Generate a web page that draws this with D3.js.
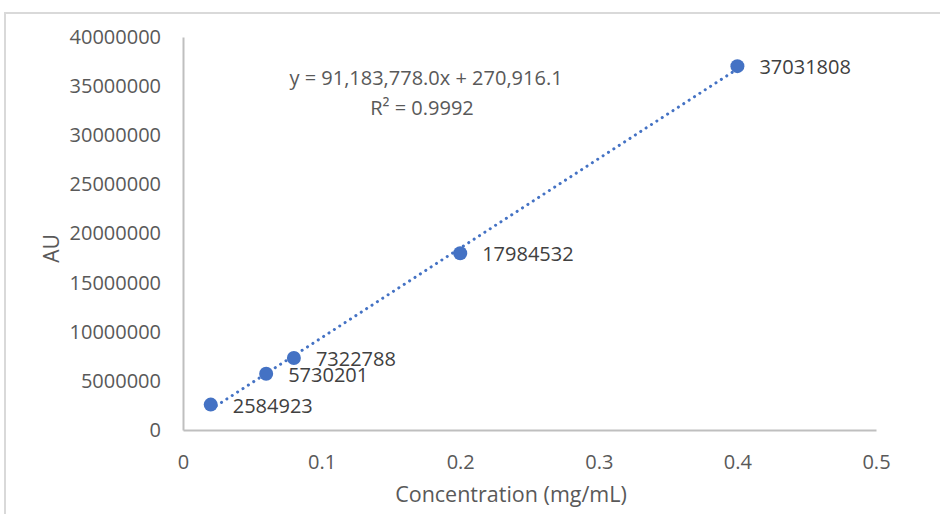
<!DOCTYPE html>
<html>
<head>
<meta charset="utf-8">
<script src="https://cdn.jsdelivr.net/npm/d3@7.9.0/dist/d3.min.js"></script>
<style>
  html, body { margin: 0; padding: 0; background: #fff; }
  svg { display: block; font-family: "Open Sans", sans-serif; }
</style>
</head>
<body>
<svg id="chart" width="940" height="514"></svg>
<script>
// data
const concentrations = [0.02, 0.06, 0.08, 0.2, 0.4];
const responses = [2584923, 5730201, 7322788, 17984532, 37031808];
const yTicks = [0, 5000000, 10000000, 15000000, 20000000, 25000000, 30000000, 35000000, 40000000];
const xTicks = [0, 0.1, 0.2, 0.3, 0.4, 0.5];
const slope = 91183778.0;
const intercept = 270916.1;
const equationText = "y = 91,183,778.0x + 270,916.1";
const r2Text = "R² = 0.9992";

const svg = d3.select('#chart');

// outer frame (only top and left edges show)
svg.append('path')
    .attr('d', 'M5,960 V13 H960')
    .attr('fill', 'none')
    .attr('stroke', '#d9d9d9')
    .attr('stroke-width', 2);

const x = d3.scaleLinear().domain([0, 0.5]).range([183, 876]);
const y = d3.scaleLinear().domain([0, 40000000]).range([430, 37]);

// y axis
const yAxis = svg.append('g')
    .attr('transform', `translate(${x(0)},0)`)
    .call(d3.axisLeft(y).tickValues(yTicks).tickFormat(d3.format('d')).tickSize(0).tickPadding(22));
yAxis.select('.domain').attr('stroke', '#bfbfbf').attr('stroke-width', 2);
yAxis.selectAll('text')
    .attr('fill', '#595959')
    .style('font-size', '20px')
    .style('font-family', '"Open Sans", sans-serif');

// x axis
const xAxis = svg.append('g')
    .attr('transform', `translate(0,${y(0)})`)
    .call(d3.axisBottom(x).tickValues(xTicks).tickFormat(d => d === 0 ? '0' : d3.format('.1f')(d)).tickSize(0).tickPadding(25));
xAxis.select('.domain').attr('stroke', '#bfbfbf').attr('stroke-width', 2);
xAxis.selectAll('text')
    .attr('fill', '#595959')
    .style('font-size', '20px')
    .style('font-family', '"Open Sans", sans-serif');

// axis titles
svg.append('text')
    .attr('transform', `translate(59,${(y(0) + y(40000000)) / 2 + 15}) rotate(-90)`)
    .attr('text-anchor', 'middle')
    .attr('fill', '#595959')
    .style('font-size', '21px')
    .text('AU');

svg.append('text')
    .attr('x', 511)
    .attr('y', 502)
    .attr('text-anchor', 'middle')
    .attr('fill', '#595959')
    .style('font-size', '21.5px')
    .text('Concentration (mg/mL)');

// linear trendline over the data range
const xMin = d3.min(concentrations), xMax = d3.max(concentrations);
const trend = [xMin, xMax].map(c => [x(c), y(slope * c + intercept)]);
svg.append('path')
    .attr('d', d3.line()(trend))
    .attr('fill', 'none')
    .attr('stroke', '#4472c4')
    .attr('stroke-width', 3)
    .attr('stroke-linecap', 'round')
    .attr('stroke-dasharray', '0.1 6.3');

// points
const pts = concentrations.map((c, i) => ({ c, v: responses[i] }));
svg.append('g').selectAll('circle')
    .data(pts)
    .join('circle')
    .attr('cx', d => x(d.c))
    .attr('cy', d => y(d.v))
    .attr('r', 7)
    .attr('fill', '#4472c4');

// data labels
svg.append('g').selectAll('text')
    .data(pts)
    .join('text')
    .attr('x', d => x(d.c) + 22)
    .attr('y', d => y(d.v) + 8)
    .attr('fill', '#404040')
    .style('font-size', '20px')
    .text(d => d.v);

// equation
svg.append('text')
    .attr('x', 426)
    .attr('y', 85)
    .attr('text-anchor', 'middle')
    .attr('fill', '#595959')
    .style('font-size', '20px')
    .text(equationText);
svg.append('text')
    .attr('x', 422)
    .attr('y', 115)
    .attr('text-anchor', 'middle')
    .attr('fill', '#595959')
    .style('font-size', '20px')
    .text(r2Text);
</script>
</body>
</html>
